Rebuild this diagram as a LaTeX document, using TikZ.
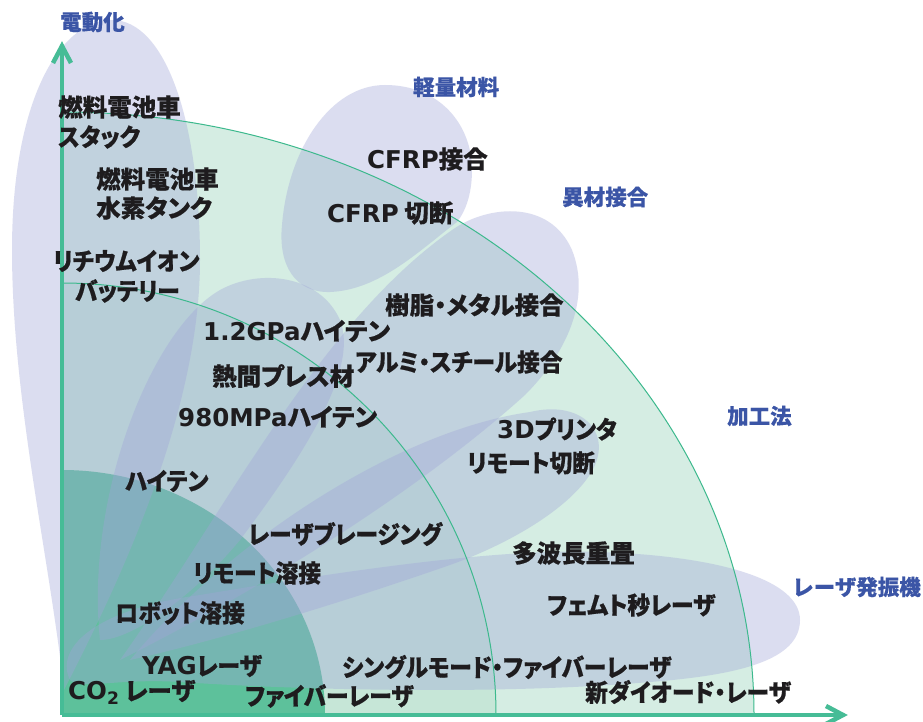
\documentclass[tikz,border=0pt]{standalone}
\usepackage{fontspec}
\newfontfamily\jp{Noto Sans CJK JP}[RawFeature=+palt, BoldFeatures={FakeBold=0.6}]
\newfontfamily\jpk{Noto Sans CJK JP}[RawFeature=+palt, FakeStretch=0.93, BoldFeatures={FakeBold=0.6}]
\newfontfamily\jpw{Noto Sans CJK JP}[BoldFeatures={FakeBold=0.4}]
\newfontfamily\latfont{DejaVu Sans}
\newcommand{\latn}[1]{{\latfont\bfseries #1}}
\definecolor{petal}{RGB}{160,165,215}
\definecolor{gouter}{RGB}{213,237,227}
\definecolor{gmid}{RGB}{198,230,215}
\definecolor{ginner}{RGB}{93,193,155}
\definecolor{arcline}{RGB}{60,185,141}
\definecolor{axiscol}{RGB}{70,188,150}
\definecolor{catblue}{RGB}{59,85,166}
\definecolor{ink}{RGB}{30,28,30}
\tikzset{
  item/.style={anchor=west, inner sep=0pt, text=ink, font=\jp\bfseries\fontsize{24.5}{24.5}\selectfont},
  itemk/.style={anchor=west, inner sep=0pt, text=ink, font=\jpk\bfseries\fontsize{24.5}{24.5}\selectfont},
  cat/.style={anchor=west, inner sep=0pt, text=catblue, font=\jpw\bfseries\fontsize{21.5}{22}\selectfont},
  petalfill/.style={fill=petal, fill opacity=0.37},
  arcl/.style={draw=arcline, line width=1pt},
  axisl/.style={draw=axiscol, line width=4.5pt}
}
\begin{document}
\begin{tikzpicture}[x=1pt,y=-1pt]
\useasboundingbox (0,0) rectangle (923,722);
\fill[white] (0,0) rectangle (923,722);
% quarter regions
\begin{scope}
\clip (62,0) rectangle (923,715);
\fill[gouter] (62,715) ellipse[x radius=692, y radius=603];
\fill[gmid] (62,715) ellipse[x radius=434, y radius=432];
\fill[ginner] (62,715) ellipse[x radius=263, y radius=245];
\end{scope}
% petals
% electrification
\path[petalfill] (64,690) .. controls (50,560) and (12,400) .. (12,250)
  .. controls (12,100) and (60,20) .. (112,20)
  .. controls (165,20) and (200,120) .. (200,260)
  .. controls (200,420) and (110,600) .. (64,690) -- cycle;
% lightweight materials blob
\path[petalfill] (457,222) .. controls (420,250) and (380,290) .. (330,292)
  .. controls (295,293) and (278,265) .. (282,225)
  .. controls (288,150) and (330,85) .. (385,85)
  .. controls (440,85) and (472,125) .. (472,170)
  .. controls (472,195) and (465,212) .. (457,222) -- cycle;
% high-tensile petal
\path[petalfill] (100,640) .. controls (85,500) and (150,330) .. (220,290)
  .. controls (260,268) and (320,275) .. (340,320)
  .. controls (360,370) and (300,460) .. (240,540)
  .. controls (190,600) and (130,640) .. (100,640) -- cycle;
% dissimilar joining petal
\path[petalfill] (120,660) .. controls (220,520) and (320,320) .. (455,228)
  .. controls (490,205) and (550,200) .. (572,250)
  .. controls (592,300) and (565,355) .. (525,395)
  .. controls (420,490) and (260,590) .. (120,660) -- cycle;
% processing petal
\path[petalfill] (130,660) .. controls (230,540) and (400,430) .. (530,412)
  .. controls (580,400) and (610,430) .. (595,465)
  .. controls (580,500) and (520,540) .. (450,565)
  .. controls (350,600) and (220,640) .. (130,660) -- cycle;
% laser oscillator petal
\path[petalfill] (70,680) .. controls (55,650) and (90,610) .. (200,595)
  .. controls (350,570) and (500,548) .. (600,552)
  .. controls (720,556) and (800,580) .. (800,620)
  .. controls (800,660) and (740,675) .. (650,682)
  .. controls (500,695) and (300,690) .. (180,682)
  .. controls (120,678) and (80,690) .. (70,680) -- cycle;
% arc lines
\begin{scope}
\clip (62,0) rectangle (923,715);
\draw[arcl] (62,715) ellipse[x radius=692, y radius=603];
\draw[arcl] (62,715) ellipse[x radius=434, y radius=432];
\end{scope}
% axes
\coordinate (O) at (62,715);
\coordinate (Ytop) at (62,46);
\coordinate (Yl) at (53,63);
\coordinate (Yr) at (71,63);
\coordinate (Xend) at (843,715);
\coordinate (Xu) at (826,706);
\coordinate (Xd) at (826,724);
\draw[axisl] (O) -- (Ytop);
\draw[axisl] (Yl) -- (Ytop) -- (Yr);
\draw[axisl] (O) -- (Xend);
\draw[axisl] (Xu) -- (Xend) -- (Xd);
% category labels
\node[cat] (c1) at (60,22) {電動化};
\node[cat] (c2) at (413,87) {軽量材料};
\node[cat] (c3) at (562,197) {異材接合};
\node[cat] (c4) at (727,416) {加工法};
\node[cat] (c5) at (792,587) {レーザ発振機};
% items
\node[item] (fc1) at (58,107) {燃料電池車};
\node[itemk] (fc2) at (58,137) {スタック};
\node[item] (ft1) at (96,179) {燃料電池車};
\node[item] (ft2) at (96,208) {水素タンク};
\node[itemk] (li1) at (53,261) {リチウムイオン};
\node[itemk] (li2) at (75,291) {バッテリー};
\node[item] (cj) at (367,159) {\latn{CFRP}接合};
\node[item] (cc) at (327,213) {\latn{CFRP} 切断};
\node[item] (jm) at (385,305) {樹脂・メタル接合};
\node[item] (g12) at (203,331) {\latn{1.2GPa}ハイテン};
\node[itemk] (as) at (355,362) {アルミ・スチール接合};
\node[item] (hp) at (212,376) {熱間プレス材};
\node[item] (g98) at (178,417) {\latn{980MPa}ハイテン};
\node[itemk] (p3d) at (497,429) {\latn{3D}プリンタ};
\node[itemk] (rc) at (467,463) {リモート切断};
\node[itemk] (ht) at (125,481) {ハイテン};
\node[itemk] (lb) at (248,534) {レーザブレージング};
\node[item] (mw) at (512,553) {多波長重畳};
\node[itemk] (rw) at (193,573) {リモート溶接};
\node[itemk] (fs) at (547,605) {フェムト秒レーザ};
\node[itemk] (rb) at (115,613) {ロボット溶接};
\node[itemk] (yag) at (142,666) {\latn{YAG}レーザ};
\node[itemk] (sm) at (342,667) {シングルモード・ファイバーレーザ};
\node[item] (co2) at (68,692) {\latn{CO\textsubscript{2}} レーザ};
\node[itemk] (fl) at (245,696) {ファイバーレーザ};
\node[itemk] (nd) at (585,692) {新ダイオード・レーザ};
\end{tikzpicture}
\end{document}
